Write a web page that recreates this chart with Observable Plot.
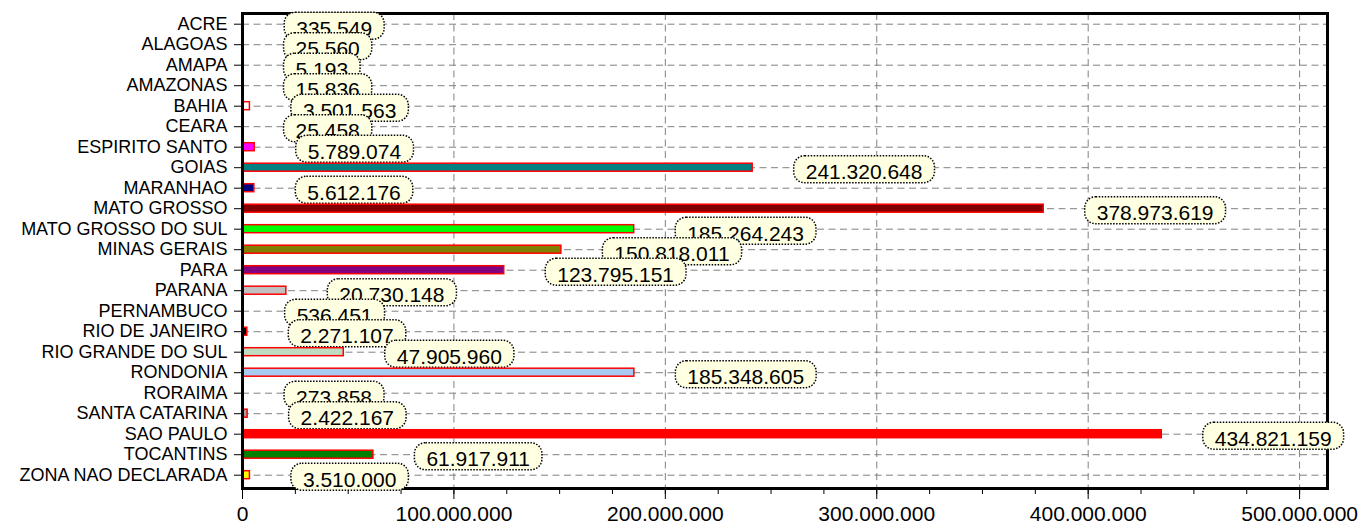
<!DOCTYPE html>
<html>
<head>
<meta charset="utf-8">
<script src="https://cdn.jsdelivr.net/npm/d3@7"></script>
<script src="https://cdn.jsdelivr.net/npm/@observablehq/plot@0.6"></script>
<style>
  html, body { margin: 0; padding: 0; background: #fff; }
  #chart svg { display: block; }
</style>
</head>
<body>
<div id="chart"></div>
<script>
const states = [
  "ACRE", "ALAGOAS", "AMAPA", "AMAZONAS", "BAHIA", "CEARA", "ESPIRITO SANTO",
  "GOIAS", "MARANHAO", "MATO GROSSO", "MATO GROSSO DO SUL", "MINAS GERAIS",
  "PARA", "PARANA", "PERNAMBUCO", "RIO DE JANEIRO", "RIO GRANDE DO SUL",
  "RONDONIA", "RORAIMA", "SANTA CATARINA", "SAO PAULO", "TOCANTINS",
  "ZONA NAO DECLARADA"
];
const values = [
  335549, 25560, 5193, 15836, 3501563, 25458, 5789074,
  241320648, 5612176, 378973619, 185264243, 150818011,
  123795151, 20730148, 536451, 2271107, 47905960,
  185348605, 273858, 2422167, 434821159, 61917911,
  3510000
];
const barColors = [
  "#FF0000", "#008000", "#FFFF00", "#0000FF", "#FFFFFF", "#808080", "#FF00FF",
  "#008080", "#000080", "#800000", "#00FF00", "#808000",
  "#800080", "#C0C0C0", "#00FFFF", "#000000", "#C0DCC0",
  "#A6CAF0", "#FFFBF0", "#A4A0A0", "#FF0000", "#008000",
  "#FFFF00"
];
const majorTicks = [0, 100000000, 200000000, 300000000, 400000000, 500000000];
const minorTicks = [0, 25000000, 50000000, 75000000, 100000000, 125000000, 150000000,
  175000000, 200000000, 225000000, 250000000, 275000000, 300000000, 325000000,
  350000000, 375000000, 400000000, 425000000, 450000000, 475000000, 500000000];
const xMax = 513200000;

const fmt = d3.formatLocale({decimal: ",", thousands: ".", grouping: [3], currency: ["", ""]}).format(",d");
const data = states.map((s, i) => ({state: s, value: values[i], color: barColors[i]}));

const gridStyle = {stroke: "#808080", strokeOpacity: 1, strokeWidth: 1, strokeDasharray: "7,4.5"};

const marks = [
  Plot.gridX(majorTicks.slice(1), gridStyle),
  Plot.gridY(states, gridStyle),
  Plot.frame({stroke: "#000", strokeWidth: 3}),
  Plot.axisX(minorTicks, {tickSize: 6, tickFormat: () => "", label: null, stroke: "#000"}),
  Plot.axisX(majorTicks, {tickSize: 11, tickPadding: 7, tickFormat: fmt, label: null, fontSize: 21, stroke: "#000", fill: "#000"}),
  Plot.axisY({tickSize: 8, tickPadding: 7, label: null, fontSize: 18, stroke: "#000", fill: "#000"}),
  ...data.flatMap(d => [
    Plot.barX([d], {x: "value", y: "state", fill: d.color, stroke: "#FF0000", strokeWidth: 1.5}),
    Plot.text([d], {x: "value", y: "state", text: v => fmt(v.value), textAnchor: "start",
      dx: 53, dy: 4.8, fontSize: 21, fill: "#000"})
  ]),
  Plot.ruleX([0], {stroke: "#000", strokeWidth: 3})
];

const chart = Plot.plot({
  width: 1359,
  height: 527,
  marginLeft: 242,
  marginRight: 32,
  marginTop: 13,
  marginBottom: 39,
  style: {fontFamily: "'Liberation Sans', Arial, sans-serif", fontSize: "18px", color: "#000", background: "#fff"},
  x: {domain: [0, xMax], label: null},
  y: {type: "band", domain: states, range: [13.45, 484.95], paddingInner: 0.61, paddingOuter: 0.305, round: false, label: null},
  marks
});
document.getElementById("chart").appendChild(chart);

// value label boxes: rounded dotted cream boxes behind each value text
const NS = "http://www.w3.org/2000/svg";
chart.querySelectorAll('g[aria-label="text"] text').forEach(t => {
  const bb = t.getBBox();
  const r = document.createElementNS(NS, "rect");
  const h = 27;
  const cy = bb.y + bb.height / 2 - 2.5;
  r.setAttribute("x", bb.x - 12);
  r.setAttribute("y", cy - h / 2);
  r.setAttribute("width", bb.width + 24);
  r.setAttribute("height", h);
  r.setAttribute("rx", 11);
  r.setAttribute("ry", 11);
  r.setAttribute("fill", "#ffffe1");
  r.setAttribute("stroke", "#000");
  r.setAttribute("stroke-width", 1.5);
  r.setAttribute("stroke-dasharray", "1.5,1.5");
  const tr = t.getAttribute("transform");
  if (tr) r.setAttribute("transform", tr);
  t.parentNode.insertBefore(r, t);
});
</script>
</body>
</html>
